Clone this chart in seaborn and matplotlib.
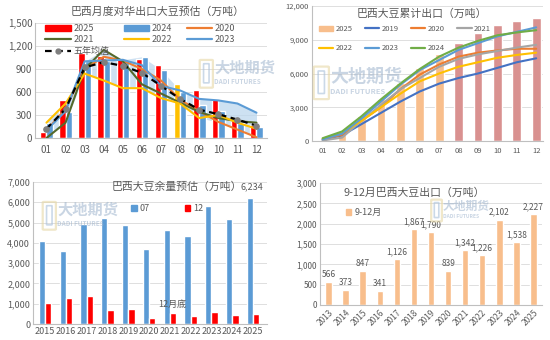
import numpy as np
import pandas as pd
import matplotlib
matplotlib.use("Agg")
import matplotlib.pyplot as plt
import seaborn as sns
from matplotlib.patches import Patch, FancyBboxPatch
from matplotlib.lines import Line2D

# ---------------- data ----------------
months = ["01", "02", "03", "04", "05", "06", "07", "08", "09", "10", "11", "12"]

# panel 1: monthly exports to China (10k t)
p1_2025 = [80, 500, 1110, 1070, 1040, 1030, 950, 700, 630, 510, 230, 170]
p1_2024 = [200, 340, 1000, 1000, 1000, 1060, 890, 600, 430, 350, 200, 140]
p1_2020 = [100, 380, 900, 1060, 1010, 900, 750, 500, 350, 210, 110, 10]
p1_2021 = [0, 200, 900, 1150, 1000, 700, 580, 460, 340, 260, 220, 200]
p1_2022 = [200, 450, 840, 750, 650, 650, 520, 450, 260, 300, 200, 120]
p1_2023 = [100, 350, 1000, 1010, 1020, 950, 680, 620, 510, 490, 450, 330]
p1_avg5 = [120, 380, 920, 990, 940, 850, 680, 510, 370, 310, 240, 160]

# panel 2: cumulative exports (10k t)
p2_2025 = [100, 600, 2250, 3700, 5150, 6500, 7750, 8700, 9600, 10300, 10650, 10950]
p2_2019 = [100, 500, 1500, 2500, 3500, 4400, 5100, 5600, 6000, 6500, 7000, 7350]
p2_2020 = [150, 550, 1800, 3000, 4600, 5900, 6800, 7500, 7850, 8050, 8200, 8200]
p2_2021 = [50, 300, 1800, 3200, 4600, 5600, 6600, 7300, 7700, 8000, 8300, 8550]
p2_2022 = [200, 700, 1800, 3000, 4200, 5300, 6000, 6600, 7000, 7400, 7650, 7850]
p2_2023 = [150, 650, 2000, 3500, 5000, 6300, 7200, 8100, 8700, 9300, 9700, 10100]
p2_2024 = [250, 850, 2200, 3700, 5100, 6400, 7500, 8300, 8900, 9400, 9650, 9850]

# panel 3: remaining stocks estimate
p3_years = ["2015", "2016", "2017", "2018", "2019", "2020", "2021", "2022", "2023", "2024", "2025"]
p3_jul = [4100, 3580, 4930, 5230, 4900, 3700, 4620, 4330, 5800, 5180, 6234]
p3_dec = [1020, 1280, 1380, 700, 740, 300, 530, 380, 590, 420, 480]

# panel 4: Sep-Dec exports
p4_years = ["2013", "2014", "2015", "2016", "2017", "2018", "2019", "2020", "2021", "2022", "2023", "2024", "2025"]
p4_vals = [566, 373, 847, 341, 1126, 1867, 1790, 839, 1342, 1226, 2102, 1538, 2227]

# ---------------- style ----------------
sns.set_theme(style="white")
plt.rcParams["font.family"] = ["Noto Sans CJK SC", "DejaVu Sans"]
GRID = "#D9D9D9"
TXT = "#595959"
SPINE = "#BFBFBF"

RED = "#FF0000"
BLUE = "#5B9BD5"
ORANGE = "#ED7D31"
OLIVE = "#55692B"
GOLD = "#FFC000"
DBLUE = "#4472C4"
GRAY = "#A5A5A5"
GREEN = "#70AD47"
PEACH = "#F8BE8C"
ROSE = "#D99190"

fig = plt.figure(figsize=(5.5, 3.4), dpi=100)
fig.patch.set_facecolor("white")


def style_ax(ax, tick_size):
    ax.set_facecolor("white")
    for s in ["top", "right"]:
        ax.spines[s].set_visible(False)
    for s in ["left", "bottom"]:
        ax.spines[s].set_color(SPINE)
        ax.spines[s].set_linewidth(0.8)
    ax.yaxis.grid(True, color=GRID, lw=0.6)
    ax.set_axisbelow(True)
    ax.tick_params(axis="both", length=0, labelsize=tick_size, colors=TXT, pad=2)
    ax.set_xlabel("")
    ax.set_ylabel("")


def watermark(x_px, y_px, size=11):
    """x_px, y_px: left / vertical centre of the Chinese text, in pixels from top-left."""
    x = x_px / 550
    y = 1 - y_px / 340
    fig.text(x, y, "大地期货", fontsize=size, color="#9DB3CC", alpha=0.55,
             ha="left", va="center", fontweight="bold", zorder=0.5)
    fig.text(x, y - size * 0.0036, "DADI FUTURES", fontsize=size * 0.42, color="#9DB3CC",
             alpha=0.55, ha="left", va="center", fontweight="bold", zorder=0.5)
    w = size * 1.0 / 550
    h = size * 2.4 / 340
    fig.patches.append(FancyBboxPatch((x - w - 0.004, y - h * 0.72), w, h,
                                      boxstyle="round,pad=0.002", transform=fig.transFigure,
                                      fc="none", ec="#E6D7A6", lw=1.6, alpha=0.6, zorder=0.5))
    fig.patches.append(FancyBboxPatch((x - w * 0.7 - 0.004, y - h * 0.55), w * 0.4, h * 0.7,
                                      boxstyle="round,pad=0.001", transform=fig.transFigure,
                                      fc="none", ec="#A9C0DA", lw=1.2, alpha=0.6, zorder=0.5))


fmt_thousands = matplotlib.ticker.FuncFormatter(lambda v, p: f"{int(v):,}")

# ================= panel 1 =================
ax1 = fig.add_axes([35 / 550, 1 - 138 / 340, 232 / 550, 115 / 340])
df1 = pd.DataFrame({
    "month": months * 2,
    "value": p1_2025 + p1_2024,
    "year": ["2025"] * 12 + ["2024"] * 12,
})
x = np.arange(12)
hist = np.array([p1_2020, p1_2021, p1_2022, p1_2023, p1_2024])
ax1.fill_between(x, hist.min(axis=0), hist.max(axis=0), color="#BDD7EE", alpha=0.75, lw=0, zorder=1)
sns.barplot(data=df1, x="month", y="value", hue="year", hue_order=["2025", "2024"],
            palette=[RED, BLUE], width=0.66, saturation=1, legend=False, ax=ax1, zorder=2)
ax1.containers[0][7].set_facecolor(GOLD)
for vals, col in [(p1_2020, ORANGE), (p1_2021, OLIVE), (p1_2022, GOLD), (p1_2023, BLUE)]:
    sns.lineplot(x=x, y=vals, color=col, lw=1.5, ax=ax1, zorder=3)
sns.lineplot(x=x, y=p1_avg5, color="black", lw=1.6, ls=(0, (3, 2)), marker="o", ms=4,
             markerfacecolor="#7F7F7F", markeredgecolor="#7F7F7F", ax=ax1, zorder=4)
ax1.set_xlim(-0.6, 11.55)
ax1.set_ylim(0, 1500)
ax1.set_yticks(range(0, 1501, 300))
ax1.yaxis.set_major_formatter(fmt_thousands)
style_ax(ax1, 7)
ax1.tick_params(axis="x", pad=5)
fig.text(158 / 550, 1 - 12 / 340, "巴西月度对华出口大豆预估（万吨）", fontsize=7.8, color=TXT,
         ha="center", va="center")
h1 = [Patch(color=RED), Patch(color=BLUE), Line2D([], [], color=ORANGE, lw=1.6),
      Line2D([], [], color=OLIVE, lw=1.6), Line2D([], [], color=GOLD, lw=1.6),
      Line2D([], [], color=BLUE, lw=1.6),
      Line2D([], [], color="black", lw=1.6, ls=(0, (3, 2)), marker="o", ms=3.5,
             markerfacecolor="#7F7F7F", markeredgecolor="#7F7F7F")]
l1 = ["2025", "2024", "2020", "2021", "2022", "2023", "五年均值"]
order = [0, 3, 6, 1, 4, 2, 5]
ax1.legend([h1[i] for i in order], [l1[i] for i in order], ncol=3,
           loc="upper left", bbox_to_anchor=(0.01, 1.06), frameon=False,
           fontsize=6.5, handlelength=2.8, handleheight=0.7, columnspacing=1.6,
           labelspacing=0.25, handletextpad=0.3, labelcolor=TXT)
watermark(214, 68, 11)

# ================= panel 2 =================
ax2 = fig.add_axes([312 / 550, 1 - 141 / 340, 231 / 550, 135 / 340])
bar_cols = [PEACH] * 7 + [ROSE] * 5
sns.barplot(x=months, y=p2_2025, hue=months, palette=bar_cols, width=0.45, saturation=1,
            legend=False, ax=ax2, zorder=2)
for vals, col in [(p2_2019, DBLUE), (p2_2020, ORANGE), (p2_2021, GRAY), (p2_2022, GOLD),
                  (p2_2023, BLUE), (p2_2024, GREEN)]:
    sns.lineplot(x=x, y=vals, color=col, lw=1.5, ax=ax2, zorder=3)
ax2.set_xlim(-0.55, 11.35)
ax2.set_ylim(0, 12000)
ax2.set_yticks(range(0, 12001, 3000))
ax2.yaxis.set_major_formatter(fmt_thousands)
style_ax(ax2, 5.5)
ax2.tick_params(axis="x", pad=4)
fig.text(422 / 550, 1 - 14 / 340, "巴西大豆累计出口（万吨）", fontsize=7.8, color=TXT,
         ha="center", va="center")
h2 = [Patch(color=PEACH), Line2D([], [], color=DBLUE, lw=1.6), Line2D([], [], color=ORANGE, lw=1.6),
      Line2D([], [], color=GRAY, lw=1.6), Line2D([], [], color=GOLD, lw=1.6),
      Line2D([], [], color=BLUE, lw=1.6), Line2D([], [], color=GREEN, lw=1.6)]
l2 = ["2025", "2019", "2020", "2021", "2022", "2023", "2024"]
order2 = [0, 4, 1, 5, 2, 6, 3]
ax2.legend([h2[i] for i in order2], [l2[i] for i in order2], ncol=4, loc="upper left",
           bbox_to_anchor=(0.0, 0.91), frameon=False, fontsize=5.5, handlelength=1.9,
           handleheight=0.6, columnspacing=1.6, labelspacing=1.5, handletextpad=0.3,
           labelcolor=TXT)
watermark(330, 76, 13)

# ================= panel 3 =================
ax3 = fig.add_axes([33 / 550, 1 - 324 / 340, 234 / 550, 142 / 340])
df3 = pd.DataFrame({
    "year": p3_years * 2,
    "value": p3_jul + p3_dec,
    "month": ["07"] * 11 + ["12"] * 11,
})
sns.barplot(data=df3, x="year", y="value", hue="month", palette=[BLUE, RED], width=0.6,
            saturation=1, legend=False, ax=ax3, zorder=2)
ax3.set_xlim(-0.58, 10.67)
ax3.set_ylim(0, 7000)
ax3.set_yticks(range(0, 7001, 1000))
ax3.yaxis.set_major_formatter(fmt_thousands)
style_ax(ax3, 6.5)
fig.text(177 / 550, 1 - 187 / 340, "巴西大豆余量预估（万吨）", fontsize=7.8, color=TXT,
         ha="center", va="center")
fig.text(263 / 550, 1 - 187 / 340, f"{p3_jul[-1]:,}", fontsize=6.5, color=TXT,
         ha="right", va="center")
ax3.legend([Patch(color=BLUE), Patch(color=RED)], ["07", "12"], ncol=2, loc="upper left",
           bbox_to_anchor=(0.385, 0.9), frameon=False, fontsize=6.5, handlelength=0.6,
           handleheight=0.6, columnspacing=3.9, handletextpad=0.3, labelcolor=TXT)
ax3.text(6.1, 950, "12月底", fontsize=6.5, color=TXT, ha="center", va="center")
watermark(57, 210, 11)

# ================= panel 4 =================
ax4 = fig.add_axes([320 / 550, 1 - 305 / 340, 222 / 550, 122 / 340])
sns.barplot(x=p4_years, y=p4_vals, color=PEACH, width=0.38, saturation=1, ax=ax4, zorder=2)
ax4.bar_label(ax4.containers[0], labels=[f"{v:,}" for v in p4_vals], fontsize=6,
              color=TXT, padding=2)
ax4.set_xlim(-0.5, 12.5)
ax4.set_ylim(0, 3000)
ax4.set_yticks(range(0, 3001, 500))
ax4.yaxis.set_major_formatter(fmt_thousands)
style_ax(ax4, 6)
plt.setp(ax4.get_xticklabels(), rotation=45, ha="right", rotation_mode="anchor")
fig.text(414 / 550, 1 - 193 / 340, "9-12月巴西大豆出口（万吨）", fontsize=7.8, color=TXT,
         ha="center", va="center")
ax4.legend([Patch(color=PEACH)], ["9-12月"], loc="upper left", bbox_to_anchor=(0.08, 0.86),
           frameon=False, fontsize=6.5, handlelength=0.6, handleheight=0.6,
           handletextpad=0.4, labelcolor=TXT)
watermark(443, 206, 8.5)

fig.savefig("out.png", dpi=100, facecolor="white")
